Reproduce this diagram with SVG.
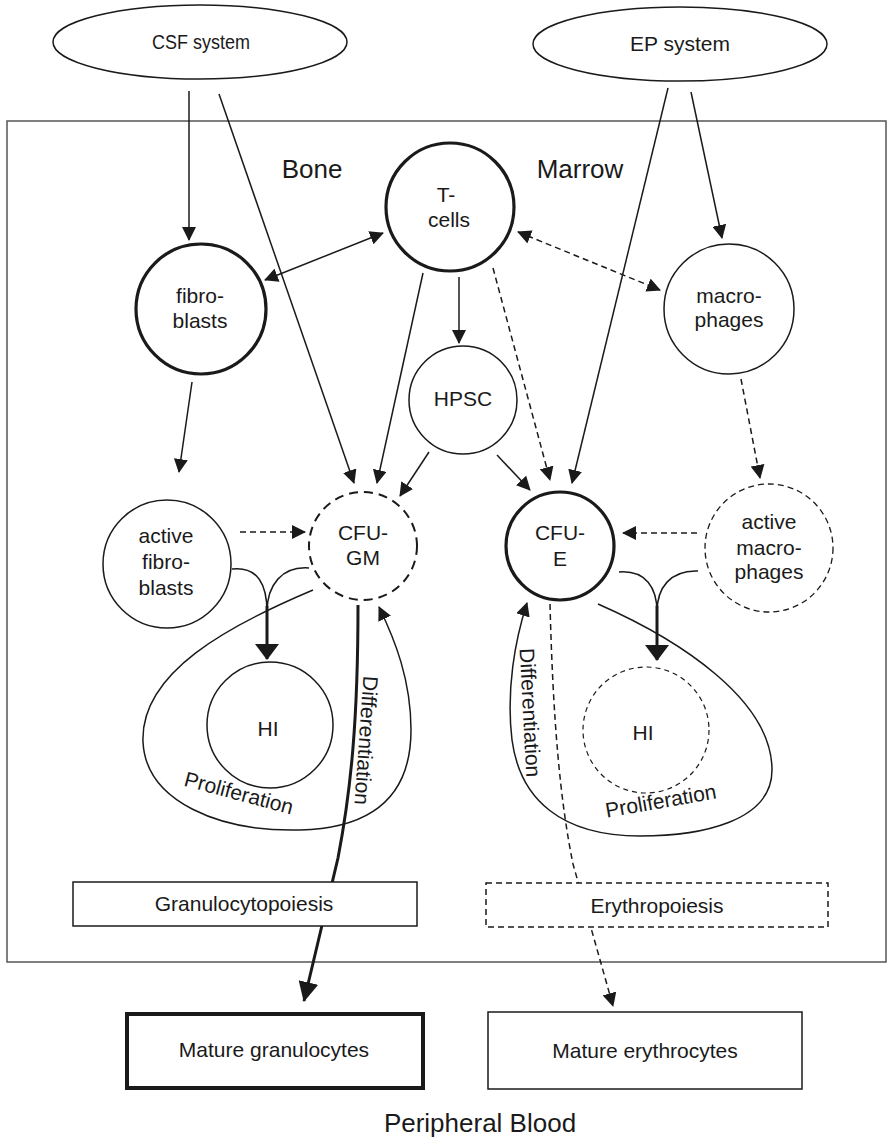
<svg xmlns="http://www.w3.org/2000/svg" width="889" height="1140" viewBox="0 0 889 1140">
<style>
text{font-family:"Liberation Sans",Arial,sans-serif;fill:#1a1a1a;text-anchor:middle}
.n{font-size:21px}
.big{font-size:26px}
.ln{fill:none;stroke:#1a1a1a;stroke-width:1.5}
.dash{stroke-dasharray:6 4}
.node{fill:#fff;stroke:#1a1a1a;stroke-width:1.5}
.thick{stroke-width:3.2}
.heavy{stroke-width:3}
</style>
<defs>
<marker id="ah" markerUnits="userSpaceOnUse" markerWidth="14" markerHeight="14" viewBox="0 0 14 14" refX="13" refY="7" orient="auto-start-reverse"><path d="M0,0 L14,7 L0,14 z" fill="#1a1a1a"/></marker>
<marker id="ahb" markerUnits="userSpaceOnUse" markerWidth="16" markerHeight="24" viewBox="0 0 16 24" refX="15" refY="12" orient="auto"><path d="M0,0 L16,12 L0,24 z" fill="#1a1a1a"/></marker>
<marker id="ahd" markerUnits="userSpaceOnUse" markerWidth="20" markerHeight="20" viewBox="0 0 20 20" refX="19" refY="10" orient="auto"><path d="M0,0 L20,10 L0,20 z" fill="#1a1a1a"/></marker>
</defs>
<rect width="889" height="1140" fill="#fff"/>
<rect x="7" y="121" width="879" height="841" fill="none" stroke="#555" stroke-width="1.5"/>
<text class="big" x="312" y="178">Bone</text>
<text class="big" x="580" y="178">Marrow</text>
<text class="big" x="480" y="1132">Peripheral Blood</text>

<g id="connectors">
<line class="ln" x1="189" y1="91" x2="189" y2="240" marker-end="url(#ah)"/>
<line class="ln" x1="219" y1="94" x2="354" y2="483" marker-end="url(#ah)"/>
<line class="ln" x1="668" y1="88" x2="572" y2="483" marker-end="url(#ah)"/>
<line class="ln" x1="691" y1="92" x2="722" y2="238" marker-end="url(#ah)"/>
<line class="ln" x1="265" y1="280" x2="383" y2="233" marker-start="url(#ah)" marker-end="url(#ah)"/>
<line class="ln dash" x1="518" y1="232" x2="660" y2="290" marker-start="url(#ah)" marker-end="url(#ah)"/>
<line class="ln" x1="459" y1="277" x2="459" y2="343" marker-end="url(#ah)"/>
<line class="ln" x1="423" y1="273" x2="377" y2="483" marker-end="url(#ah)"/>
<line class="ln dash" x1="493" y1="268" x2="550" y2="480" marker-end="url(#ah)"/>
<line class="ln" x1="429" y1="452" x2="400" y2="496" marker-end="url(#ah)"/>
<line class="ln" x1="497" y1="455" x2="530" y2="490" marker-end="url(#ah)"/>
<line class="ln" x1="192" y1="382" x2="179" y2="472" marker-end="url(#ah)"/>
<line class="ln dash" x1="741" y1="379" x2="760" y2="478" marker-end="url(#ah)"/>
<line class="ln dash" x1="240" y1="532" x2="305" y2="532" marker-end="url(#ah)"/>
<line class="ln dash" x1="697" y1="533" x2="623" y2="533" marker-end="url(#ah)"/>
<path class="ln" d="M232,569 C258,566 267,585 267,612"/>
<path class="ln" d="M309,568 C282,566 267,585 267,612"/>
<line class="ln heavy" x1="267" y1="606" x2="267" y2="659" marker-end="url(#ahb)"/>
<path class="ln" d="M619,572 C646,570 657,588 657,612"/>
<path class="ln" d="M698,571 C670,570 657,588 657,612"/>
<line class="ln heavy" x1="657" y1="606" x2="657" y2="660" marker-end="url(#ahb)"/>
<path class="ln" d="M313,590 C230,625 140,672 143,742 C146,802 220,832 300,830 C380,828 411,790 411,730 C411,680 395,640 379,607" marker-end="url(#ah)"/>
<path class="ln" d="M598,604 C680,640 772,700 772,770 C772,822 700,836 640,836 C562,836 520,800 512,740 C506,690 515,640 527,603" marker-end="url(#ah)"/>
<path class="ln heavy" d="M358,605 C358,720 351,790 338,858 L304,1001" marker-end="url(#ahd)"/>
<path class="ln dash" d="M550,604 C553,720 560,800 573,864 L613,1006" marker-end="url(#ah)"/>
</g>

<g id="csf"><ellipse class="node" cx="200" cy="42" rx="147" ry="37"/><text x="201" y="49" font-size="20" textLength="98" lengthAdjust="spacingAndGlyphs">CSF system</text></g>
<g id="ep"><ellipse class="node" cx="680" cy="44" rx="147" ry="37"/><text x="680" y="51" font-size="21">EP system</text></g>
<g id="tcells"><circle class="node thick" cx="450" cy="207" r="64"/><text class="n" x="446" y="202">T-</text><text class="n" x="449" y="227">cells</text></g>
<g id="fibroblasts"><circle class="node thick" cx="201" cy="309" r="65"/><text class="n" x="200" y="303">fibro-</text><text class="n" x="200" y="328">blasts</text></g>
<g id="macrophages"><circle class="node" cx="729" cy="309" r="65"/><text class="n" x="729" y="303">macro-</text><text class="n" x="729" y="327">phages</text></g>
<g id="hpsc"><circle class="node" cx="463" cy="400" r="54"/><text class="n" x="463" y="406">HPSC</text></g>
<g id="active-fibroblasts"><circle class="node" cx="167" cy="564" r="64"/><text class="n" x="166" y="543">active</text><text class="n" x="166" y="569">fibro-</text><text class="n" x="166" y="595">blasts</text></g>
<g id="cfu-gm"><circle class="node" cx="363" cy="546" r="54" style="stroke-width:2;stroke-dasharray:9 6"/><text class="n" x="363" y="540">CFU-</text><text class="n" x="363" y="565">GM</text></g>
<g id="cfu-e"><circle class="node thick" cx="560" cy="546" r="54"/><text class="n" x="560" y="540">CFU-</text><text class="n" x="560" y="566">E</text></g>
<g id="active-macrophages"><circle class="node" cx="769" cy="548" r="64" style="stroke-width:1.3;stroke-dasharray:6 4"/><text class="n" x="769" y="529">active</text><text class="n" x="769" y="555">macro-</text><text class="n" x="769" y="579">phages</text></g>
<g id="hi-left"><circle class="node" cx="270" cy="725" r="63"/><text class="n" x="268" y="736">HI</text></g>
<g id="hi-right"><circle class="node" cx="646" cy="730" r="63" style="stroke-width:1.2;stroke-dasharray:5 4"/><text class="n" x="643" y="740">HI</text></g>

<g id="labels">
<text class="n" transform="translate(237,800) rotate(15)">Proliferation</text>
<text class="n" transform="translate(662,808) rotate(-10)">Proliferation</text>
<text class="n" transform="translate(359,740) rotate(94)">Differentiation</text>
<text class="n" transform="translate(523,713) rotate(87)">Differentiation</text>
</g>

<g id="granulocytopoiesis"><rect class="node" x="73" y="882" width="344" height="44"/><text class="n" x="244" y="911">Granulocytopoiesis</text></g>
<g id="erythropoiesis"><rect class="node dash" x="486" y="883" width="342" height="44"/><text class="n" x="657" y="913">Erythropoiesis</text></g>
<g id="mature-granulocytes"><rect class="node" x="127" y="1014" width="296" height="74" style="stroke-width:4"/><text class="n" x="274" y="1057">Mature granulocytes</text></g>
<g id="mature-erythrocytes"><rect class="node" x="488" y="1012" width="314" height="77"/><text class="n" x="645" y="1058">Mature erythrocytes</text></g>
</svg>
